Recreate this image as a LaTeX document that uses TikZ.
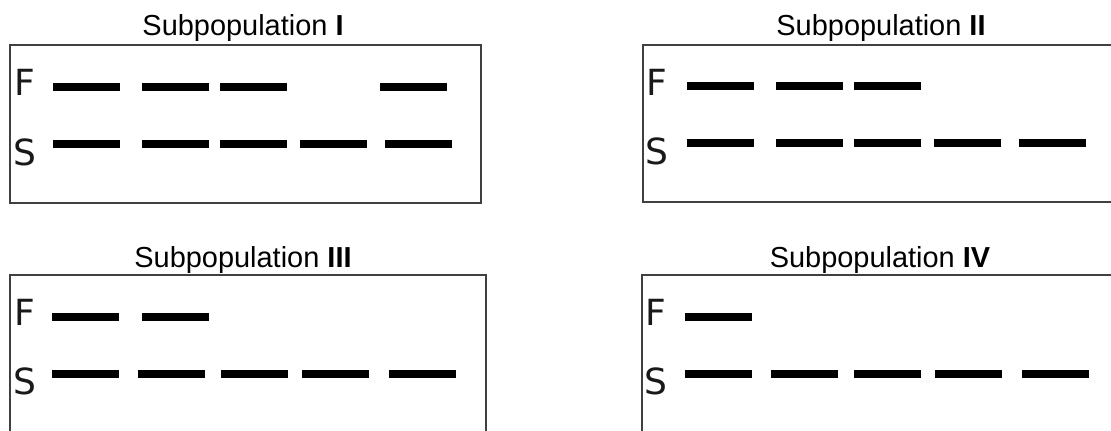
\documentclass[tikz,border=0pt]{standalone}
\usepackage{fontspec}
\setmainfont{Liberation Sans}
\newfontfamily\rowfont{DejaVu Sans}
\usepackage{tikz}

\begin{document}
\begin{tikzpicture}[x=0.75pt, y=-0.75pt]
    \tikzstyle{panel} = [draw=black!75, line width=1.5pt]
    \tikzstyle{title} = [anchor=base, inner sep=0pt, font=\fontsize{21.7}{26}\selectfont]
    \tikzstyle{row} = [anchor=base west, inner sep=0pt, text=black!90, font=\rowfont\fontsize{27}{30}\selectfont]
    \tikzstyle{band} = [line width=5.8pt, black]

    \clip (0,0) rectangle (1111,430);
    \fill[white] (0,0) rectangle (1111,430);

    % Subpopulation I
    \node [title] (titleI) at (243,35) {Subpopulation \textbf{I}};
    \draw [panel] (10,45) rectangle (481,203);
    \node [row] (fI) at (14,95) {F};
    \node [row] (sI) at (13,165) {S};
    \foreach \x in {53,142,220,380} \draw [band] (\x,87) -- ++(67,0);
    \foreach \x in {53,142,220,300,385} \draw [band] (\x,144) -- ++(67,0);

    % Subpopulation II
    \node [title] (titleII) at (881,35) {Subpopulation \textbf{II}};
    \draw [panel] (643,45) rectangle (1120,202);
    \node [row] (fII) at (646,95) {F};
    \node [row] (sII) at (645,164) {S};
    \foreach \x in {687,776,854} \draw [band] (\x,86) -- ++(67,0);
    \foreach \x in {687,776,854,934,1019} \draw [band] (\x,143) -- ++(67,0);

    % Subpopulation III
    \node [title] (titleIII) at (243,267) {Subpopulation \textbf{III}};
    \draw [panel] (10,275) rectangle (486,445);
    \node [row] (fIII) at (14,325) {F};
    \node [row] (sIII) at (13,394) {S};
    \foreach \x in {52,142} \draw [band] (\x,317) -- ++(67,0);
    \foreach \x in {52,138,221,302,389} \draw [band] (\x,374) -- ++(67,0);

    % Subpopulation IV
    \node [title] (titleIV) at (880,267) {Subpopulation \textbf{IV}};
    \draw [panel] (642,275) rectangle (1120,445);
    \node [row] (fIV) at (645,325) {F};
    \node [row] (sIV) at (644,394) {S};
    \foreach \x in {685} \draw [band] (\x,317) -- ++(67,0);
    \foreach \x in {685,771,854,935,1022} \draw [band] (\x,374) -- ++(67,0);

\end{tikzpicture}
\end{document}
